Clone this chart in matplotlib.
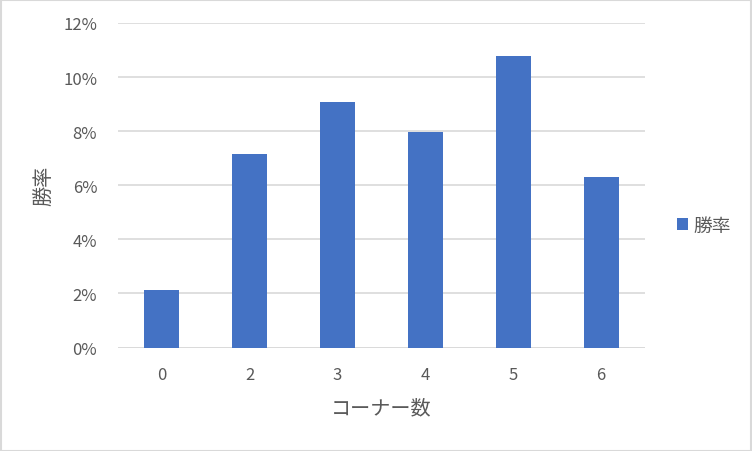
import matplotlib
matplotlib.use("Agg")
import matplotlib.pyplot as plt
from matplotlib.patches import Rectangle, Patch
from matplotlib.ticker import FuncFormatter, MultipleLocator

plt.rcParams["font.family"] = ["Noto Sans CJK JP", "DejaVu Sans"]

# data
corners = ["0", "2", "3", "4", "5", "6"]
win_rate = [2.13, 7.16, 9.07, 7.97, 10.78, 6.30]   # percent
series_name = "勝率"

BAR = "#4472C4"
GRID = "#D9D9D9"
TEXT = "#595959"

W, H = 752, 452
L, R, T, B = 118, 645, 24, 348.5

fig = plt.figure(figsize=(W / 100, H / 100), dpi=100)
ax = fig.add_axes([L / W, 1 - B / H, (R - L) / W, (B - T) / H])

x = range(len(corners))
ax.bar(x, win_rate, width=0.4, color=BAR, zorder=3, label=series_name)

ax.set_xlim(-0.5, len(corners) - 0.5)
ax.set_ylim(0, 12)
ax.yaxis.set_major_locator(MultipleLocator(2))
ax.yaxis.set_major_formatter(FuncFormatter(lambda v, _: f"{v:.0f}%"))
ax.set_xticks(list(x))
ax.set_xticklabels(corners)

ax.grid(axis="y", color=GRID, linewidth=1.2, zorder=0)
ax.grid(axis="x", visible=False)
for s in ax.spines.values():
    s.set_visible(False)
ax.axhline(0, color=GRID, linewidth=1.2, zorder=1)

ax.tick_params(axis="both", length=0, colors=TEXT, labelsize=12)
ax.tick_params(axis="y", pad=15)
ax.tick_params(axis="x", pad=13)

ax.set_xlabel("コーナー数", color=TEXT, fontsize=14.5)
ax.set_ylabel("勝率", color=TEXT, fontsize=14.5)
ax.xaxis.set_label_coords(0.5, (B - 409) / (B - T), transform=ax.transAxes)
ax.yaxis.set_label_coords((45 - L) / (R - L), 0.5, transform=ax.transAxes)
ax.xaxis.label.set_va("center")
ax.yaxis.label.set_va("center")

handle = Patch(facecolor=BAR, edgecolor="none")
fig.legend([handle], [series_name], loc="center left",
           bbox_to_anchor=(677 / W, 1 - 226 / H), frameon=False,
           fontsize=13.5, labelcolor=TEXT, handlelength=0.6, handleheight=0.6,
           handletextpad=0.3, borderpad=0, borderaxespad=0)

# outer chart border
fig.patches.append(Rectangle((0.001, 0.001), 0.998, 0.997, transform=fig.transFigure,
                             fill=False, edgecolor=GRID, linewidth=1.5))

fig.savefig("out.png", dpi=100, facecolor="white")
